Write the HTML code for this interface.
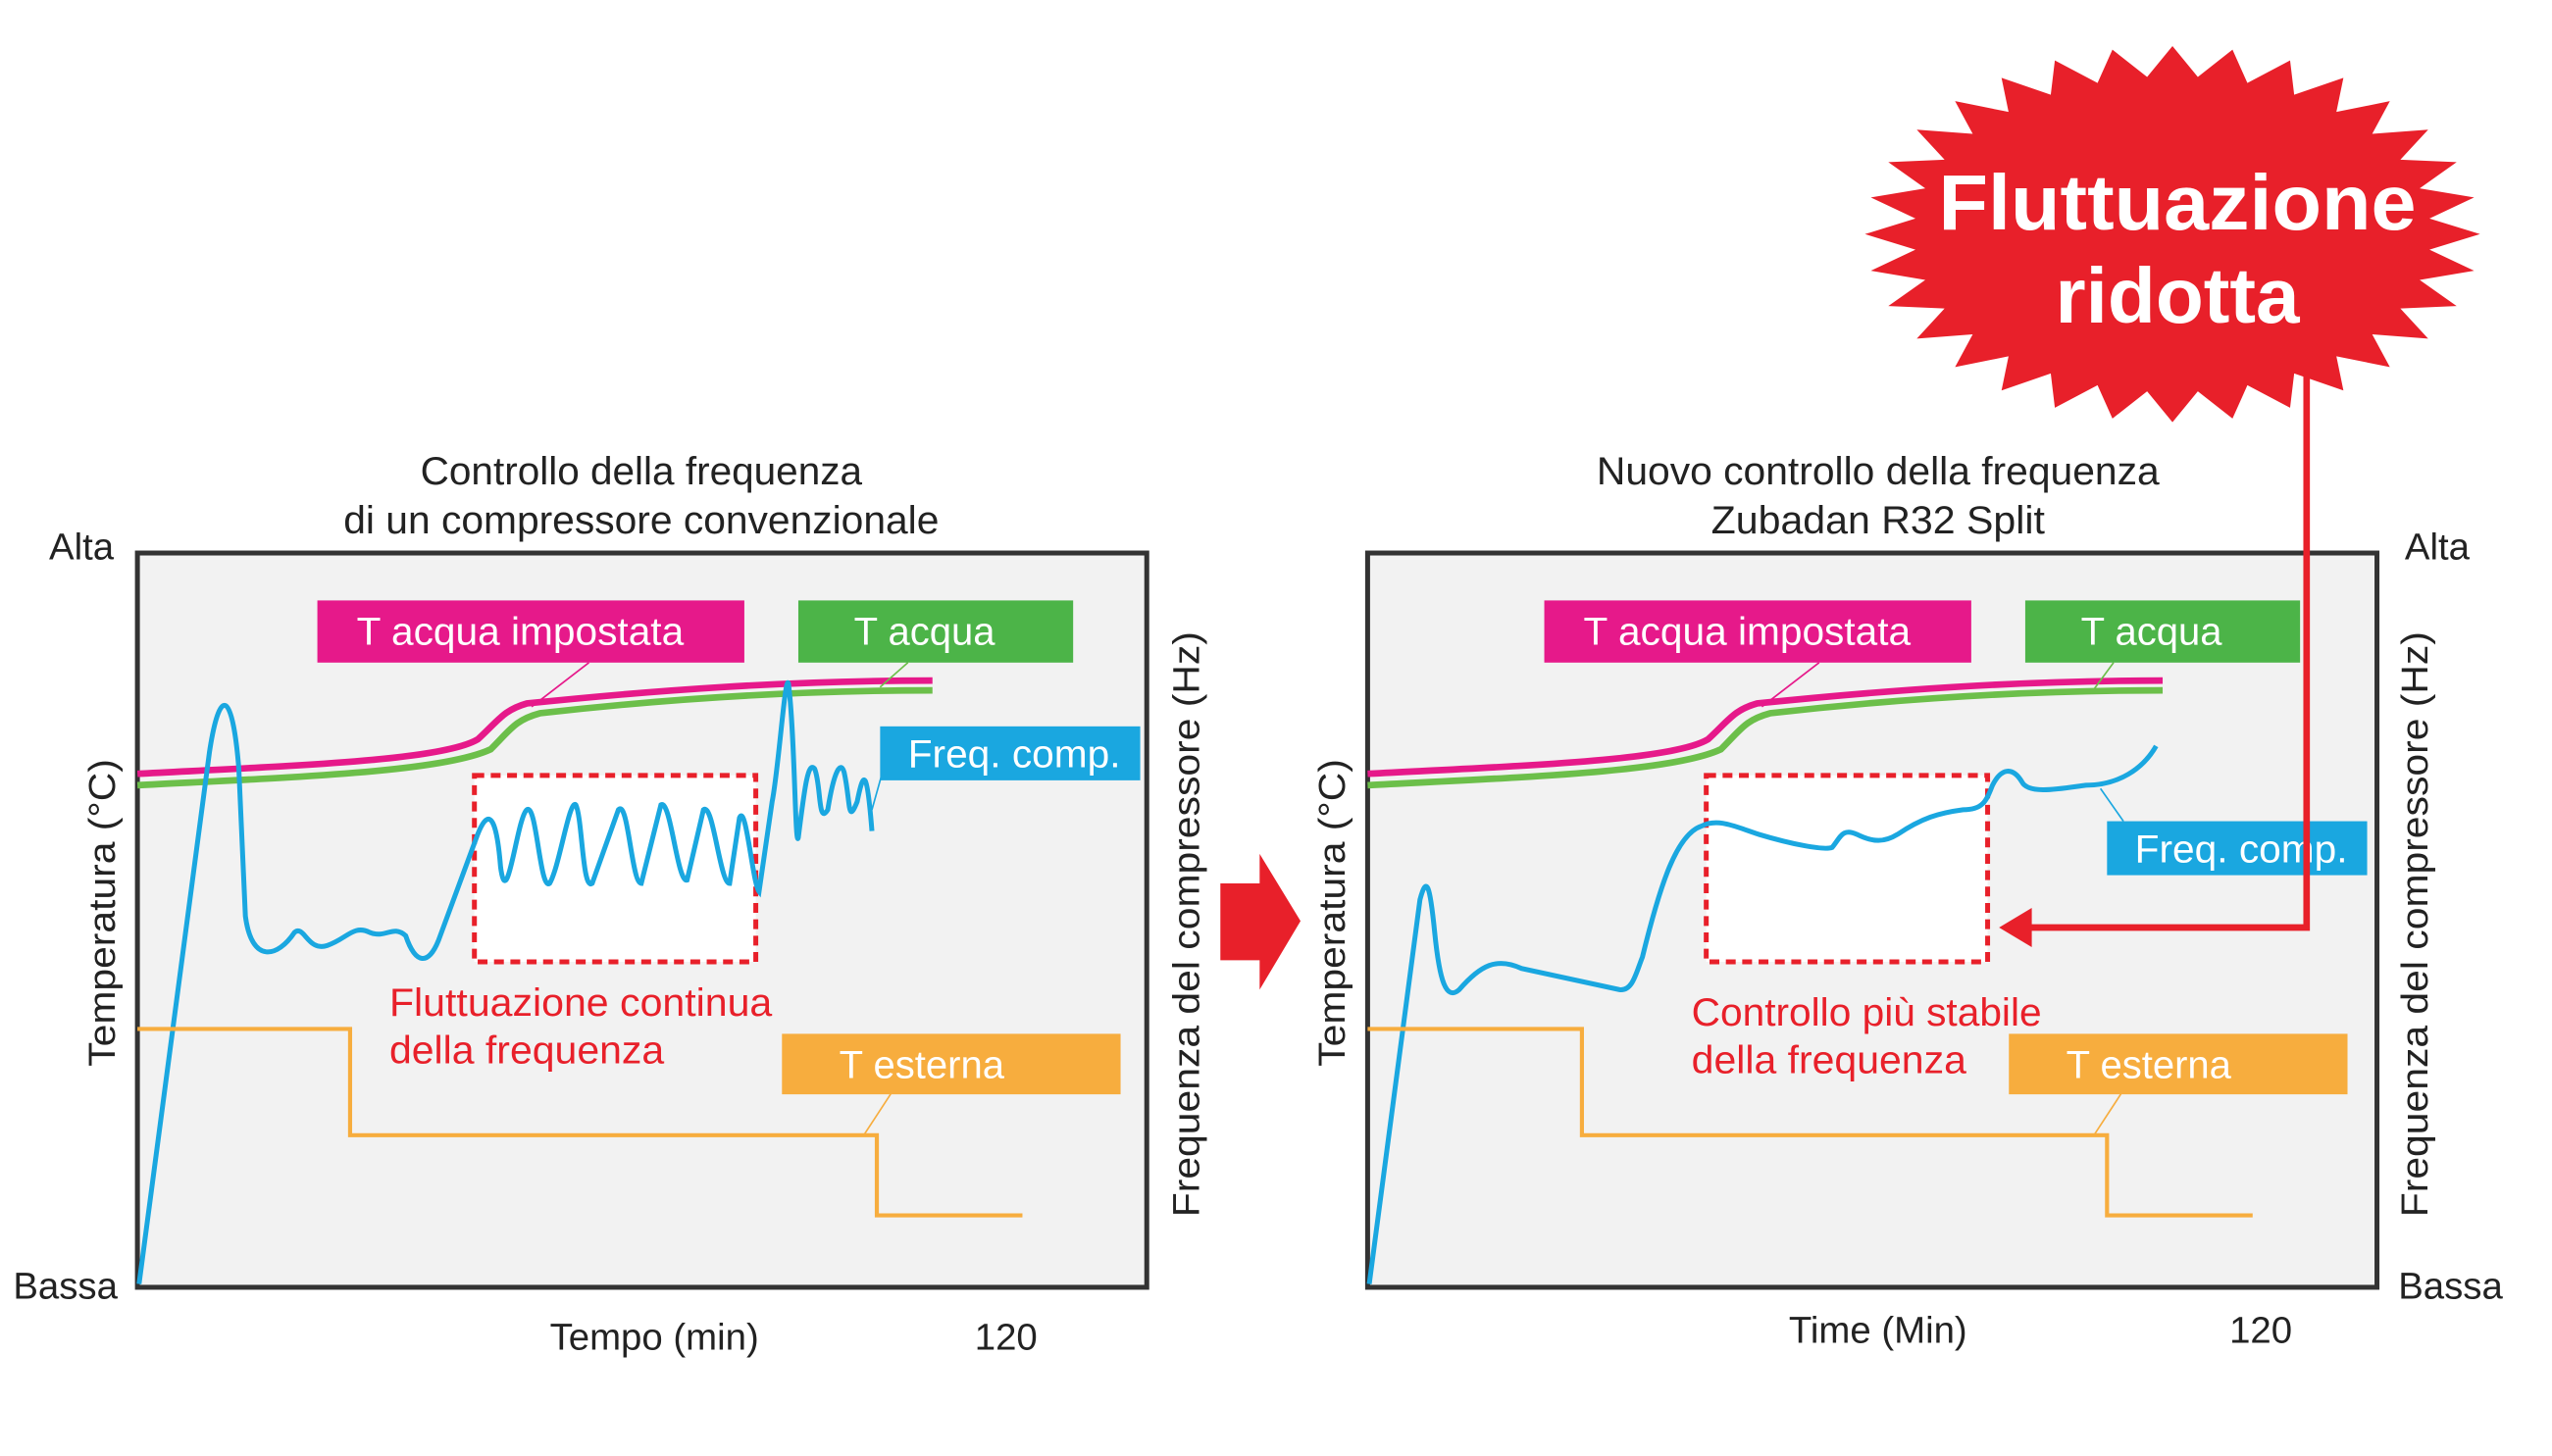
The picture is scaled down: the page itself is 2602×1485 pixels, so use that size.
<!DOCTYPE html>
<html><head><meta charset="utf-8"><style>
html,body{margin:0;padding:0;background:#fff;}
svg{display:block;}
text{font-family:"Liberation Sans Narrow","Liberation Sans",sans-serif;}
</style></head><body>
<svg width="2602" height="1485" viewBox="0 0 1560 890" xmlns="http://www.w3.org/2000/svg">
<rect width="1560" height="890" fill="#fff"/>

<!-- LEFT CHART -->
<text x="392" y="296" font-size="24" text-anchor="middle" fill="#222" textLength="270" lengthAdjust="spacingAndGlyphs">Controllo della frequenza</text>
<text x="392" y="326" font-size="24" text-anchor="middle" fill="#222" textLength="364" lengthAdjust="spacingAndGlyphs">di un compressore convenzionale</text>
<rect x="84" y="338" width="617" height="449" fill="#f2f2f2" stroke="#333" stroke-width="3"/>
<text x="30" y="342" font-size="23" fill="#222">Alta</text>
<text x="8" y="794" font-size="23" fill="#222">Bassa</text>
<text transform="translate(70,558) rotate(-90)" font-size="23" text-anchor="middle" fill="#222" textLength="188" lengthAdjust="spacingAndGlyphs">Temperatura (°C)</text>
<text transform="translate(733,565) rotate(-90)" font-size="23" text-anchor="middle" fill="#222" textLength="358" lengthAdjust="spacingAndGlyphs">Frequenza del compressore (Hz)</text>
<text x="400" y="825" font-size="23" text-anchor="middle" fill="#222">Tempo (min)</text>
<text x="615" y="825" font-size="23" text-anchor="middle" fill="#222">120</text>

<rect x="290" y="474" width="172" height="114" fill="#fff" stroke="#e8202a" stroke-width="3" stroke-dasharray="6,4"/>
<path d="M84 480 C180 475 270 472 300 458 C312 446 315 440 330 436 C400 428 480 422 570 422" fill="none" stroke="#6cbf4a" stroke-width="4"/>
<path d="M84 473 C180 468 270 465 292 452 C305 440 308 434 322 430 C400 422 480 416 570 416" fill="none" stroke="#e6198a" stroke-width="4"/>
<line x1="325" y1="432" x2="360" y2="405" stroke="#e6198a" stroke-width="1"/>
<line x1="538" y1="420" x2="555" y2="405" stroke="#6cbf4a" stroke-width="1"/>
<line x1="533" y1="495" x2="540" y2="470" stroke="#1aa7e0" stroke-width="1"/>
<path d="M85 785 L128 460 C134 420 142 420 146 470 L150 560 C154 590 170 585 180 570 C186 565 188 582 200 578 C212 574 216 565 226 570 C236 574 240 565 248 572 C254 590 262 590 268 575 L292 510 C300 490 304 505 306 530 C310 560 316 500 322 495 C328 490 330 545 336 540 C342 530 348 488 352 492 C356 500 356 545 362 540 L378 495 C384 488 386 540 392 540 L404 492 C410 488 414 540 420 538 L430 495 C436 490 440 540 446 540 L452 500 C456 490 460 540 464 545 L472 490 C476 470 480 410 482 418 C486 450 486 520 488 512 C492 480 494 465 498 470 C502 480 500 505 506 495 C510 470 514 465 516 472 C520 490 518 505 524 490 C528 470 530 470 533 508" fill="none" stroke="#1aa7e0" stroke-width="3"/>
<path d="M84 629 L214 629 L214 694 L536 694 L536 743 L625 743" fill="none" stroke="#f7ad3e" stroke-width="2.5"/>
<line x1="528" y1="694" x2="545" y2="668" stroke="#f7ad3e" stroke-width="1"/>

<rect x="194" y="367" width="261" height="38" fill="#e6198a"/>
<text x="218" y="394" font-size="24" fill="#fff" textLength="200" lengthAdjust="spacingAndGlyphs">T acqua impostata</text>
<rect x="488" y="367" width="168" height="38" fill="#4cb448"/>
<text x="522" y="394" font-size="24" fill="#fff">T acqua</text>
<rect x="538" y="444" width="159" height="33" fill="#1aa7e0"/>
<text x="555" y="469" font-size="24" fill="#fff" textLength="130" lengthAdjust="spacingAndGlyphs">Freq. comp.</text>
<rect x="478" y="632" width="207" height="37" fill="#f7ad3e"/>
<text x="513" y="659" font-size="24" fill="#fff">T esterna</text>
<text x="238" y="621" font-size="24" fill="#e8202a" textLength="234" lengthAdjust="spacingAndGlyphs">Fluttuazione continua</text>
<text x="238" y="650" font-size="24" fill="#e8202a" textLength="168" lengthAdjust="spacingAndGlyphs">della frequenza</text>

<!-- Middle arrow -->
<polygon points="746,540 770,540 770,522 795,563 770,605 770,587 746,587" fill="#e8202a"/>

<!-- RIGHT CHART -->
<text x="1148" y="296" font-size="24" text-anchor="middle" fill="#222" textLength="344" lengthAdjust="spacingAndGlyphs">Nuovo controllo della frequenza</text>
<text x="1148" y="326" font-size="24" text-anchor="middle" fill="#222" textLength="204" lengthAdjust="spacingAndGlyphs">Zubadan R32 Split</text>
<rect x="836" y="338" width="617" height="449" fill="#f2f2f2" stroke="#333" stroke-width="3"/>
<text x="1470" y="342" font-size="23" fill="#222">Alta</text>
<text x="1466" y="794" font-size="23" fill="#222">Bassa</text>
<text transform="translate(822,558) rotate(-90)" font-size="23" text-anchor="middle" fill="#222" textLength="188" lengthAdjust="spacingAndGlyphs">Temperatura (°C)</text>
<text transform="translate(1484,565) rotate(-90)" font-size="23" text-anchor="middle" fill="#222" textLength="358" lengthAdjust="spacingAndGlyphs">Frequenza del compressore (Hz)</text>
<text x="1148" y="821" font-size="23" text-anchor="middle" fill="#222">Time (Min)</text>
<text x="1382" y="821" font-size="23" text-anchor="middle" fill="#222">120</text>

<rect x="1043" y="474" width="172" height="114" fill="#fff" stroke="#e8202a" stroke-width="3" stroke-dasharray="6,4"/>
<path d="M836 480 C932 475 1022 472 1052 458 C1064 446 1067 440 1082 436 C1152 428 1232 422 1322 422" fill="none" stroke="#6cbf4a" stroke-width="4"/>
<path d="M836 473 C932 468 1022 465 1044 452 C1057 440 1060 434 1074 430 C1152 422 1232 416 1322 416" fill="none" stroke="#e6198a" stroke-width="4"/>
<line x1="1077" y1="432" x2="1112" y2="405" stroke="#e6198a" stroke-width="1"/>
<line x1="1278" y1="424" x2="1292" y2="405" stroke="#6cbf4a" stroke-width="1"/>
<line x1="1284" y1="482" x2="1298" y2="502" stroke="#1aa7e0" stroke-width="1"/>
<path d="M837 785 L868 550 C872 535 874 540 877 570 C880 600 884 612 892 605 C905 590 915 585 930 592 L990 605 C998 606 1000 595 1004 585 C1015 540 1025 510 1040 505 C1050 500 1060 505 1075 510 C1095 516 1115 520 1120 518 C1125 512 1126 506 1135 510 C1145 515 1152 515 1160 510 C1175 500 1185 497 1200 495 C1212 495 1214 490 1218 480 C1223 470 1230 468 1236 478 C1240 486 1260 482 1275 480 C1295 480 1310 470 1318 456" fill="none" stroke="#1aa7e0" stroke-width="3"/>
<path d="M836 629 L967 629 L967 694 L1288 694 L1288 743 L1377 743" fill="none" stroke="#f7ad3e" stroke-width="2.5"/>
<line x1="1280" y1="694" x2="1297" y2="668" stroke="#f7ad3e" stroke-width="1"/>

<rect x="944" y="367" width="261" height="38" fill="#e6198a"/>
<text x="968" y="394" font-size="24" fill="#fff" textLength="200" lengthAdjust="spacingAndGlyphs">T acqua impostata</text>
<rect x="1238" y="367" width="168" height="38" fill="#4cb448"/>
<text x="1272" y="394" font-size="24" fill="#fff">T acqua</text>
<rect x="1288" y="502" width="159" height="33" fill="#1aa7e0"/>
<text x="1305" y="527" font-size="24" fill="#fff" textLength="130" lengthAdjust="spacingAndGlyphs">Freq. comp.</text>
<rect x="1228" y="632" width="207" height="37" fill="#f7ad3e"/>
<text x="1263" y="659" font-size="24" fill="#fff">T esterna</text>
<text x="1034" y="627" font-size="24" fill="#e8202a" textLength="214" lengthAdjust="spacingAndGlyphs">Controllo più stabile</text>
<text x="1034" y="656" font-size="24" fill="#e8202a" textLength="168" lengthAdjust="spacingAndGlyphs">della frequenza</text>

<!-- Connector -->
<path d="M1410 230 L1410 567 L1240 567" fill="none" stroke="#e8202a" stroke-width="4"/>
<polygon points="1222,567 1242,555 1242,579" fill="#e8202a"/>

<!-- Starburst -->
<polygon fill="#e8202a" points="1328,28 1343.5,46.9 1364.7,30.2 1373.8,50.6 1399.9,36.8 1402.4,57.8 1432.5,47.4 1428.2,68.3 1460.9,61.7 1450.1,81.7 1484.3,79.1 1467.3,97.5 1501.7,99 1479.1,115 1512.4,120.6 1485.1,133.5 1516,143 1485.1,152.5 1512.4,165.4 1479.1,171 1501.7,187 1467.3,188.5 1484.3,206.9 1450.1,204.3 1460.9,224.3 1428.2,217.7 1432.5,238.6 1402.4,228.2 1399.9,249.2 1373.8,235.4 1364.7,255.8 1343.5,239.1 1328,258 1312.5,239.1 1291.3,255.8 1282.2,235.4 1256.1,249.2 1253.6,228.2 1223.5,238.6 1227.8,217.7 1195.1,224.3 1205.9,204.3 1171.7,206.9 1188.7,188.5 1154.3,187 1176.9,171 1143.6,165.4 1170.9,152.5 1140,143 1170.9,133.5 1143.6,120.6 1176.9,115 1154.3,99 1188.7,97.5 1171.7,79.1 1205.9,81.7 1195.1,61.7 1227.8,68.3 1223.5,47.4 1253.6,57.8 1256.1,36.8 1282.2,50.6 1291.3,30.2 1312.5,46.9"/>
<text x="1331" y="140" font-size="48" font-weight="bold" text-anchor="middle" fill="#fff" style="font-family:'Liberation Sans',sans-serif" textLength="292" lengthAdjust="spacingAndGlyphs">Fluttuazione</text>
<text x="1331" y="197" font-size="48" font-weight="bold" text-anchor="middle" fill="#fff" style="font-family:'Liberation Sans',sans-serif">ridotta</text>
</svg>
</body></html>
